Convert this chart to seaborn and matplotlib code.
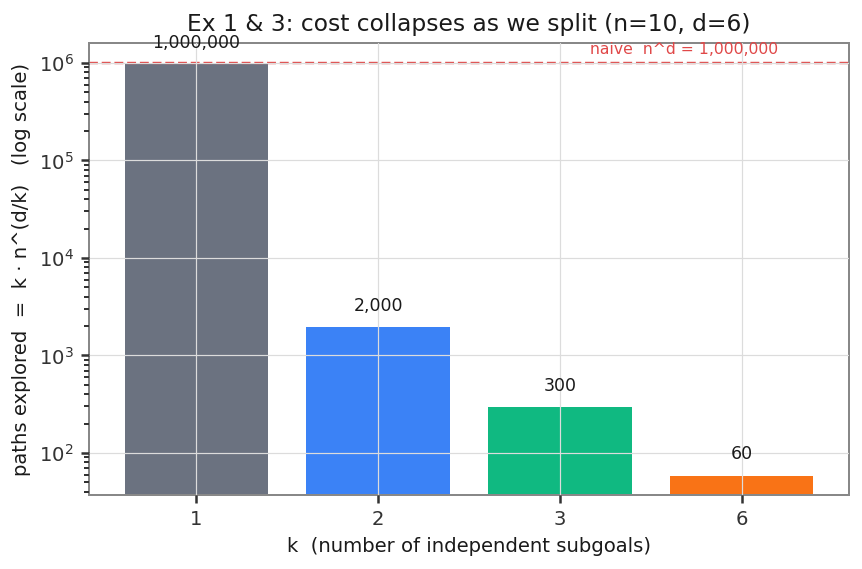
import matplotlib
matplotlib.use("Agg")
import matplotlib.pyplot as plt
import seaborn as sns
import pandas as pd

k_labels = ["1", "2", "3", "6"]
paths = [1_000_000, 2_000, 300, 60]
bar_colors = ["#6b7280", "#3b82f6", "#10b981", "#f97316"]
value_labels = ["1,000,000", "2,000", "300", "60"]
naive_value = 1_000_000
naive_text = "naive  n^d = 1,000,000"

sns.set_theme(style="whitegrid", rc={
    "axes.edgecolor": "#888888",
    "axes.linewidth": 1.0,
    "xtick.bottom": True, "ytick.left": True,
    "xtick.major.size": 4, "ytick.major.size": 4,
    "ytick.minor.size": 2.5, "ytick.minor.visible": True,
    "ytick.minor.left": True,
    "xtick.color": "#333333", "ytick.color": "#333333",
})
plt.rcParams["font.family"] = ["DejaVu Sans"]

df = pd.DataFrame({"k": k_labels, "paths": paths})

fig = plt.figure(figsize=(862 / 144, 569 / 144), dpi=144)
ax = fig.add_axes([89 / 862, 1 - 495 / 569, (849 - 89) / 862, (495 - 43) / 569])

sns.barplot(data=df, x="k", y="paths", hue="k", palette=bar_colors,
            legend=False, saturation=1, width=0.8, ax=ax)
ax.set_yscale("log")
ax.set_ylim(37, 1.6e6)
ax.set_xlim(-0.59, 3.59)
ax.set_axisbelow(False)
ax.grid(True, which="major", color="#dcdcdc", linewidth=0.6)
ax.grid(False, which="minor")

for i, (v, lab) in enumerate(zip(paths, value_labels)):
    ax.text(i, v * 1.3, lab, ha="center", va="bottom", fontsize=8.7, color="#1a1a1a")

ax.axhline(naive_value, color="#e04848", linestyle="--", linewidth=1.2)
ax.text(3.2, naive_value * 1.15, naive_text, ha="right", va="bottom",
        fontsize=7.8, color="#e04848")

ax.set_title("Ex 1 & 3: cost collapses as we split (n=10, d=6)", fontsize=11.7, color="#1a1a1a")
ax.set_xlabel("k  (number of independent subgoals)", fontsize=9.8, color="#1a1a1a")
ax.set_ylabel("paths explored  =  k · n^(d/k)   (log scale)", fontsize=9.8, color="#1a1a1a")
ax.tick_params(axis="both", labelsize=9.8)

fig.savefig("out.png", dpi=144)
